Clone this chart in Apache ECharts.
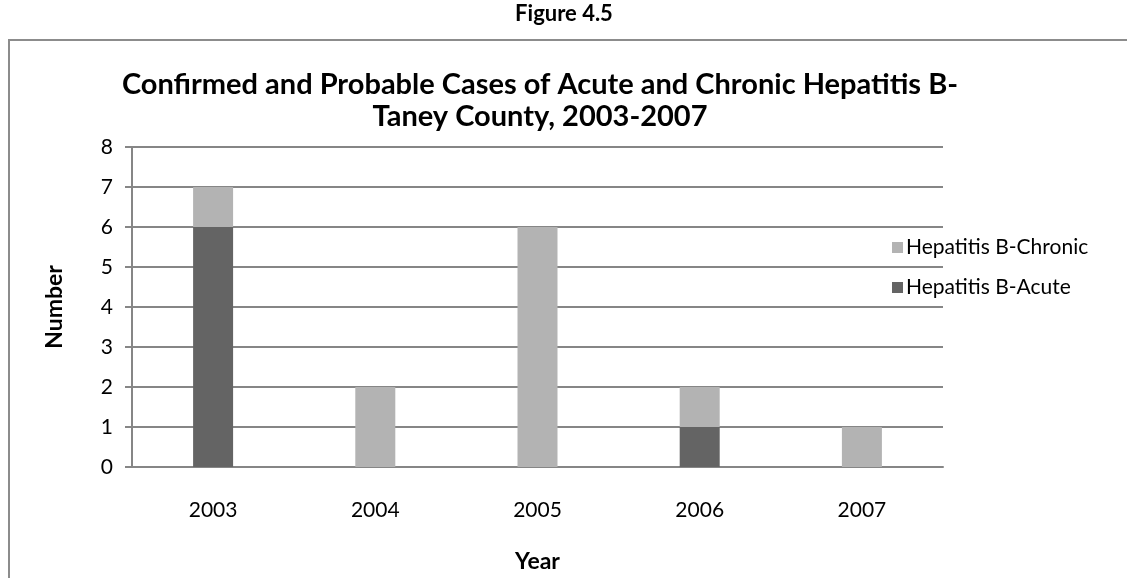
<!DOCTYPE html>
<html>
<head>
<meta charset="utf-8">
<script src="https://cdn.jsdelivr.net/npm/echarts@6/dist/echarts.min.js"></script>
<style>
  html, body { margin: 0; padding: 0; background: #fff; }
  #chart { width: 1127px; height: 578px; }
</style>
</head>
<body>
<div id="chart"></div>
<script>
const years = ['2003', '2004', '2005', '2006', '2007']
const acute = [6, 0, 0, 1, 0]
const chronic = [1, 2, 6, 1, 1]
const yTicks = [0, 1, 2, 3, 4, 5, 6, 7, 8]

const font = 'Lato'
const chart = echarts.init(document.getElementById('chart'))

chart.setOption({
  animation: false,
  textStyle: { fontFamily: font },
  title: [
    {
      text: 'Figure 4.5',
      left: 564,
      top: 3,
      textAlign: 'center',
      padding: 0,
      textStyle: { fontFamily: font, fontSize: 22, fontWeight: 'bold', color: '#000' }
    },
    {
      text: 'Confirmed and Probable Cases of Acute and Chronic Hepatitis B-\nTaney County, 2003-2007',
      left: 540,
      top: 69,
      textAlign: 'center',
      padding: 0,
      textStyle: { fontFamily: font, fontSize: 29, fontWeight: 'bold', color: '#000', lineHeight: 32 }
    }
  ],
  graphic: [
    {
      type: 'polyline',
      shape: { points: [[9, 578], [9, 40], [1127, 40]] },
      style: { stroke: '#8c8c8c', lineWidth: 2, fill: null }
    }
  ],
  legend: {
    data: ['Hepatitis B-Chronic', 'Hepatitis B-Acute'],
    orient: 'vertical',
    left: 892,
    top: 237,
    padding: 0,
    itemWidth: 11,
    itemHeight: 11,
    itemGap: 19,
    icon: 'rect',
    textStyle: { fontFamily: font, fontSize: 21, color: '#000', padding: [0, 0, 0, -2] }
  },
  grid: {
    left: 132,
    right: 184,
    top: 147,
    bottom: 111,
    containLabel: false
  },
  xAxis: {
    type: 'category',
    data: years,
    name: 'Year',
    nameLocation: 'middle',
    nameGap: 83,
    nameTextStyle: { fontFamily: font, fontSize: 23, fontWeight: 'bold', color: '#000' },
    axisLine: { lineStyle: { color: '#868686', width: 2 } },
    axisTick: { show: false },
    axisLabel: { fontFamily: font, fontSize: 21, color: '#000', margin: 33 }
  },
  yAxis: {
    type: 'value',
    min: yTicks[0],
    max: yTicks[yTicks.length - 1],
    interval: 1,
    name: 'Number',
    nameLocation: 'middle',
    nameGap: 66,
    nameTextStyle: { fontFamily: font, fontSize: 23, fontWeight: 'bold', color: '#000' },
    axisLine: { show: true, lineStyle: { color: '#868686', width: 2 } },
    axisTick: { show: true, length: 7, lineStyle: { color: '#868686', width: 2 } },
    axisLabel: { fontFamily: font, fontSize: 21, color: '#000', margin: 19 },
    splitLine: { lineStyle: { color: '#868686', width: 2 } }
  },
  series: [
    {
      name: 'Hepatitis B-Acute',
      type: 'bar',
      stack: 'cases',
      data: acute,
      barWidth: 40,
      itemStyle: { color: '#646464' }
    },
    {
      name: 'Hepatitis B-Chronic',
      type: 'bar',
      stack: 'cases',
      data: chronic,
      barWidth: 40,
      itemStyle: { color: '#b3b3b3' }
    }
  ]
})
</script>
</body>
</html>
